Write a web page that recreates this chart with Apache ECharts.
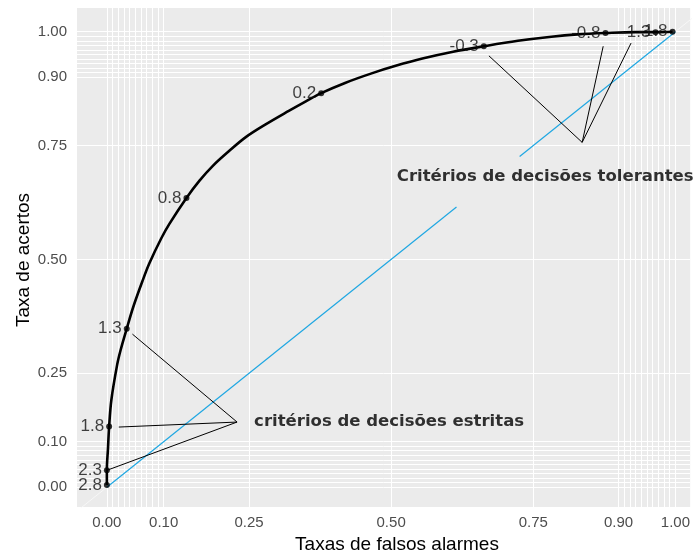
<!DOCTYPE html>
<html>
<head>
<meta charset="utf-8">
<script src="https://cdn.jsdelivr.net/npm/echarts@6/dist/echarts.min.js"></script>
<style>
  html, body { margin: 0; padding: 0; background: #ffffff; }
  #chart { width: 693px; height: 555px; }
</style>
</head>
<body>
<div id="chart"></div>
<script>
// Decision criteria plotted on the ROC curve and their rates
const criteria   = ['2.8', '2.3', '1.8', '1.3', '0.8', '0.2', '-0.3', '-0.8', '-1.3', '-1.8'];
const falseAlarm = [0.000, 0.000, 0.004, 0.035, 0.140, 0.377, 0.663, 0.877, 0.965, 0.995];
const hitRate    = [0.005, 0.037, 0.133, 0.348, 0.635, 0.865, 0.968, 0.997, 0.999, 1.000];

// Traced ROC curve
const curveFA  = [0.000, 0.000, 0.002, 0.004, 0.008, 0.018, 0.024, 0.035, 0.046, 0.0625, 0.075, 0.096,
                  0.110, 0.140, 0.163, 0.186, 0.215, 0.245, 0.280, 0.320, 0.350, 0.377, 0.420,
                  0.467, 0.508, 0.555, 0.609, 0.663, 0.723, 0.782, 0.828, 0.877, 0.930, 0.965, 0.995];
const curveHit = [0.005, 0.037, 0.085, 0.133, 0.192, 0.268, 0.300, 0.348, 0.394, 0.452, 0.492, 0.547,
                  0.578, 0.635, 0.673, 0.705, 0.738, 0.769, 0.797, 0.826, 0.847, 0.865, 0.888,
                  0.909, 0.925, 0.941, 0.956, 0.968, 0.980, 0.989, 0.994, 0.997, 0.999, 0.999, 1.000];

// Axis breaks: labelled ticks and the full set of grid lines
const tickBreaks = [0, 0.10, 0.25, 0.50, 0.75, 0.90, 1.00];
const tickLabels = ['0.00', '0.10', '0.25', '0.50', '0.75', '0.90', '1.00'];
const gridBreaks = [0, 0.01, 0.02, 0.03, 0.04, 0.05, 0.06, 0.07, 0.08, 0.09, 0.10,
                    0.25, 0.50, 0.75,
                    0.90, 0.91, 0.92, 0.93, 0.94, 0.95, 0.96, 0.97, 0.98, 0.99, 1.00];

// Chance diagonal (blue part, interrupted by the upper annotation) and its pale extensions
const diagonalParts = [[0, 0.615], [0.726, 1]];
const diagonalOuter = [[-0.08, 0], [1, 1.08]];

// Annotations with leader lines
const strictText    = 'critérios de decisões estritas';
const strictPos     = [0.259, 0.143];
const strictAnchor  = [0.229, 0.143];
const strictTargets = [[0.045, 0.336], [0.021, 0.132], [0.000, 0.037]];

const lenientText    = 'Critérios de decisões tolerantes';
const lenientPos     = [0.510, 0.682];
const lenientAnchor  = [0.836, 0.757];
const lenientTargets = [[0.672, 0.947], [0.873, 0.968], [0.922, 0.975]];

const X_MIN = -0.0525, X_MAX = 1.026;
const Y_MIN = -0.0435, Y_MAX = 1.052;

const SANS = "'Liberation Sans', Arial, sans-serif";

function labelFor(v) {
  const i = tickBreaks.findIndex(b => Math.abs(b - v) < 1e-9);
  return i >= 0 ? tickLabels[i] : '';
}

const series = [];

// white panel grid lines (kept beneath every other mark)
series.push({
  type: 'line',
  data: [[X_MIN, Y_MIN]],
  symbol: 'none',
  lineStyle: { opacity: 0 },
  z: 1,
  silent: true,
  markLine: {
    z: 1,
    silent: true,
    symbol: ['none', 'none'],
    label: { show: false },
    emphasis: { disabled: true },
    lineStyle: { color: '#FFFFFF', width: 1, type: 'solid' },
    data: gridBreaks.map(v => ({ xAxis: v })).concat(gridBreaks.map(v => ({ yAxis: v })))
  }
});

diagonalOuter.forEach(p => {
  series.push({
    type: 'line', z: 12, silent: true, symbol: 'none',
    lineStyle: { color: '#F7F7F7', width: 1 },
    data: [[p[0], p[0]], [p[1], p[1]]]
  });
});

diagonalParts.forEach(p => {
  series.push({
    type: 'line', z: 13, silent: true, symbol: 'none',
    lineStyle: { color: '#1FA7E2', width: 1.2 },
    data: [[p[0], p[0]], [p[1], p[1]]]
  });
});

[[strictAnchor, strictTargets], [lenientAnchor, lenientTargets]].forEach(([a, targets]) => {
  targets.forEach(t => {
    series.push({
      type: 'line', z: 14, silent: true, symbol: 'none',
      lineStyle: { color: '#000000', width: 1, type: 'solid' },
      data: [a, t]
    });
  });
});

// ROC curve
series.push({
  type: 'line', z: 15, silent: true, symbol: 'none',
  smooth: 0.35,
  lineStyle: { color: '#000000', width: 2.6 },
  data: curveFA.map((x, i) => [x, curveHit[i]])
});

// criterion points with their labels
series.push({
  type: 'scatter', z: 16, silent: true,
  symbolSize: 6,
  itemStyle: { color: '#000000' },
  label: {
    show: true,
    position: 'left',
    distance: 2,
    formatter: p => criteria[p.dataIndex],
    color: '#111111',
    fontFamily: SANS,
    fontSize: 17
  },
  data: falseAlarm.map((x, i) => [x, hitRate[i]])
});

// annotation texts
[[strictText, strictPos], [lenientText, lenientPos]].forEach(([txt, pos]) => {
  series.push({
    type: 'scatter', z: 17, silent: true,
    symbolSize: 0,
    label: {
      show: true,
      position: 'right',
      distance: 0,
      formatter: txt,
      color: '#000000',
      fontFamily: "'DejaVu Sans', sans-serif",
      fontWeight: 'bold',
      fontSize: 16.5
    },
    data: [pos]
  });
});

const chart = echarts.init(document.getElementById('chart'), null, { renderer: 'canvas' });

chart.setOption({
  animation: false,
  backgroundColor: '#FFFFFF',
  grid: {
    left: 77, right: 0, top: 8, bottom: 48,
    show: true, backgroundColor: '#EBEBEB', borderWidth: 0
  },
  xAxis: {
    type: 'value', min: X_MIN, max: X_MAX,
    axisLine: { show: false },
    splitLine: { show: false },
    axisTick: { show: true, customValues: tickBreaks, length: 4.5, lineStyle: { color: '#333333', width: 1 } },
    axisLabel: {
      customValues: tickBreaks, formatter: v => labelFor(v),
      color: '#4D4D4D', fontFamily: SANS, fontSize: 15, margin: 8
    }
  },
  yAxis: {
    type: 'value', min: Y_MIN, max: Y_MAX,
    axisLine: { show: false },
    splitLine: { show: false },
    axisTick: { show: true, customValues: tickBreaks, length: 4.5, lineStyle: { color: '#333333', width: 1 } },
    axisLabel: {
      customValues: tickBreaks, formatter: v => labelFor(v),
      color: '#4D4D4D', fontFamily: SANS, fontSize: 15, margin: 10
    }
  },
  graphic: [
    {
      type: 'text', x: 397, y: 545, silent: true,
      style: { text: 'Taxas de falsos alarmes', fill: '#000000', font: "19px 'Liberation Sans', Arial, sans-serif",
               textAlign: 'center', textVerticalAlign: 'middle' }
    },
    {
      type: 'text', x: 24, y: 260, rotation: Math.PI / 2, silent: true,
      style: { text: 'Taxa de acertos', fill: '#000000', font: "19px 'Liberation Sans', Arial, sans-serif",
               textAlign: 'center', textVerticalAlign: 'middle' }
    }
  ],
  series: series
});
</script>
</body>
</html>
